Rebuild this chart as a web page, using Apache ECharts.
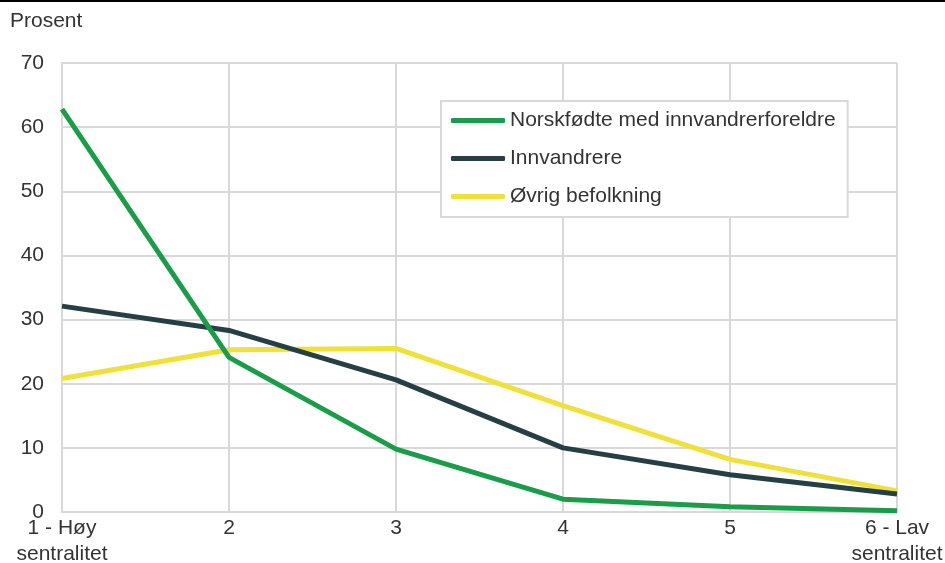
<!DOCTYPE html>
<html>
<head>
<meta charset="utf-8">
<script src="https://cdn.jsdelivr.net/npm/echarts@6/dist/echarts.min.js"></script>
<style>
  html, body { margin: 0; padding: 0; background: #fff; }
  #chart { width: 945px; height: 563px; }
</style>
</head>
<body>
<div id="chart"></div>
<script>
var categories = ['1 - Høy\nsentralitet', '2', '3', '4', '5', '6 - Lav\nsentralitet'];
var norskfodte = [62.8, 24.1, 9.8, 2.0, 0.8, 0.2];
var innvandrere = [32.1, 28.3, 20.6, 10.0, 5.8, 2.8];
var ovrig = [20.8, 25.3, 25.5, 16.6, 8.2, 3.3];
var yTicks = { min: 0, max: 70, interval: 10 };

var gridColor = '#d9d9d9';
var textColor = '#333333';
var font = 'Liberation Sans, Arial';

var chartDom = document.getElementById('chart');
var myChart = echarts.init(chartDom);
var option = {
  animation: false,
  backgroundColor: '#ffffff',
  graphic: [
    { type: 'rect', shape: { x: 0, y: 0, width: 945, height: 2 }, style: { fill: '#000' } },
    { type: 'text', left: 10, top: 11, style: { text: 'Prosent', fontSize: 21, fill: textColor, fontFamily: font } }
  ],
  grid: { left: 62, right: 48, top: 63, bottom: 51, containLabel: false, outerBoundsMode: 'none' },
  legend: {
    orient: 'vertical',
    left: 441,
    top: 101,
    padding: [8, 12, 9, 10],
    itemGap: 15,
    itemWidth: 54,
    itemHeight: 5,
    icon: 'roundRect',
    backgroundColor: '#ffffff',
    borderColor: gridColor,
    borderWidth: 2,
    textStyle: { fontSize: 21, color: textColor, lineHeight: 23, fontFamily: font },
    data: ['Norskfødte med innvandrerforeldre', 'Innvandrere', 'Øvrig befolkning']
  },
  xAxis: {
    type: 'category',
    boundaryGap: false,
    data: categories,
    axisLine: { show: true, lineStyle: { color: gridColor, width: 2 } },
    axisTick: { show: false },
    splitLine: { show: true, lineStyle: { color: gridColor, width: 2 } },
    axisLabel: { fontSize: 21, color: textColor, lineHeight: 26, margin: 3, fontFamily: font }
  },
  yAxis: {
    type: 'value',
    min: yTicks.min,
    max: yTicks.max,
    interval: yTicks.interval,
    axisLine: { show: true, lineStyle: { color: gridColor, width: 2 } },
    axisTick: { show: false },
    splitLine: { show: true, lineStyle: { color: gridColor, width: 2 } },
    axisLabel: { fontSize: 21, color: textColor, margin: 18, fontFamily: font }
  },
  series: [
    {
      name: 'Norskfødte med innvandrerforeldre',
      type: 'line',
      data: norskfodte,
      symbol: 'none',
      z: 3,
      lineStyle: { width: 5, color: '#1a9d49' },
      itemStyle: { color: '#1a9d49' }
    },
    {
      name: 'Innvandrere',
      type: 'line',
      data: innvandrere,
      symbol: 'none',
      z: 2,
      lineStyle: { width: 5, color: '#263f45' },
      itemStyle: { color: '#263f45' }
    },
    {
      name: 'Øvrig befolkning',
      type: 'line',
      data: ovrig,
      symbol: 'none',
      z: 1,
      lineStyle: { width: 5, color: '#f0e13a' },
      itemStyle: { color: '#f0e13a' }
    }
  ]
};
option && myChart.setOption(option);
</script>
</body>
</html>
